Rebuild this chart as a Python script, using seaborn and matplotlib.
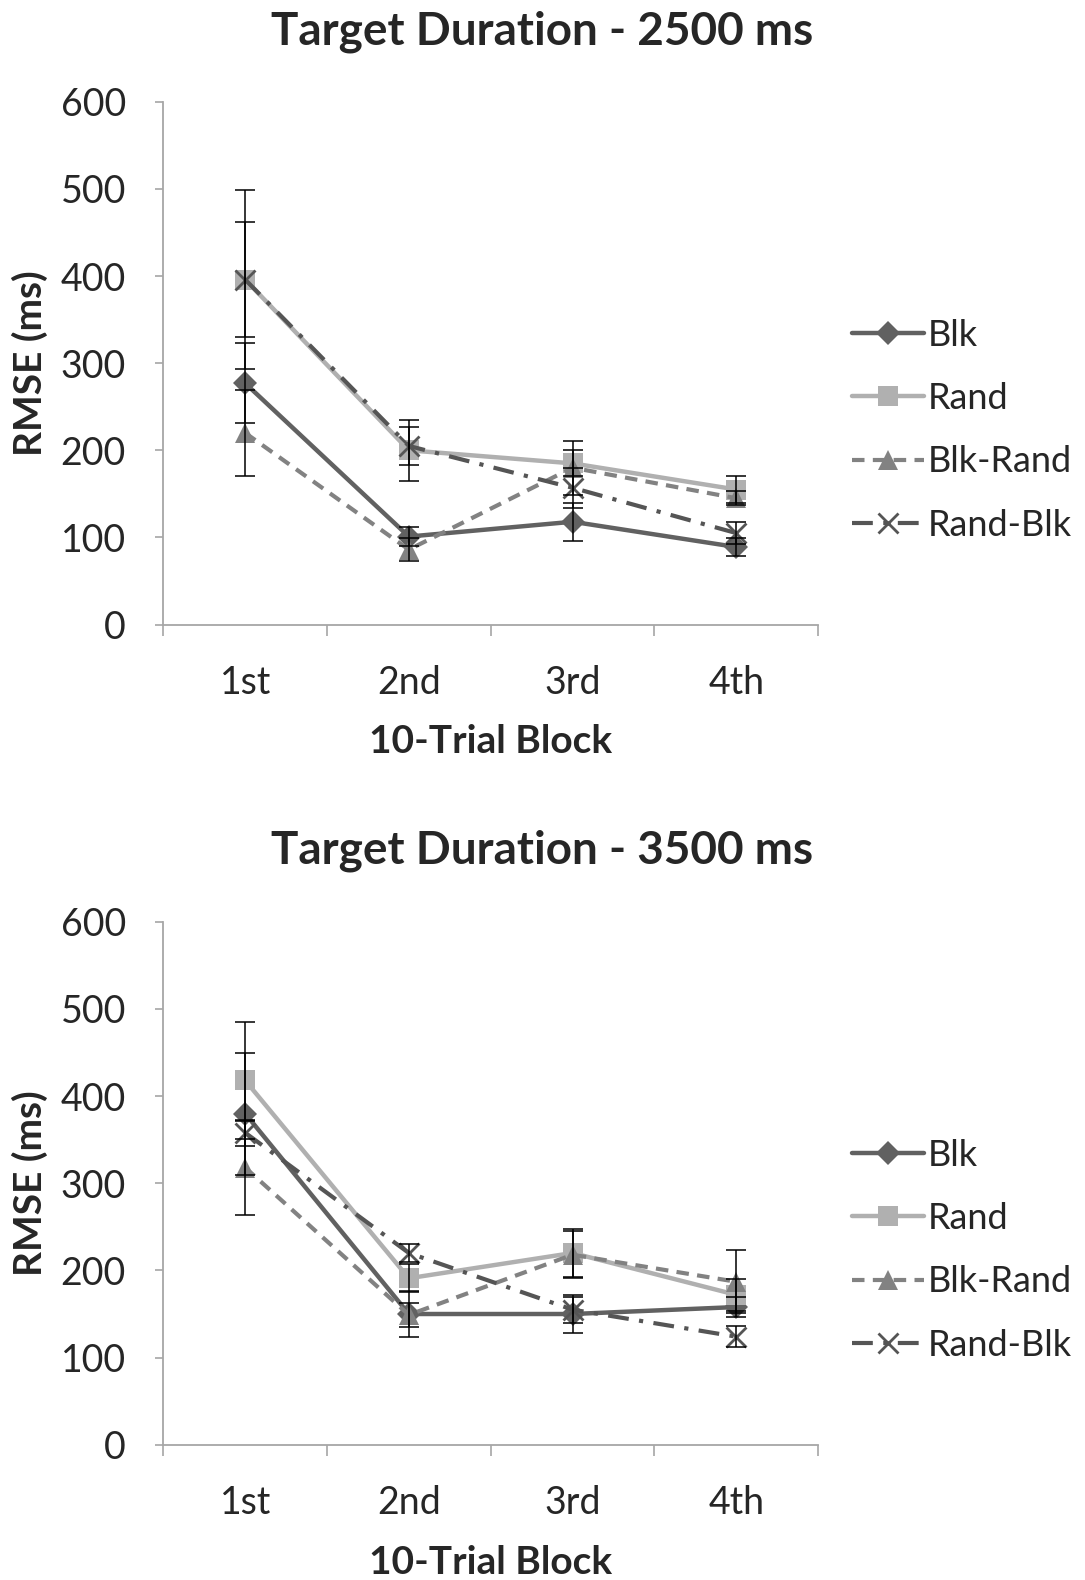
import numpy as np
import pandas as pd
import matplotlib
matplotlib.use("Agg")
import matplotlib.pyplot as plt
import seaborn as sns

# categories
blocks = ["1st", "2nd", "3rd", "4th"]
series_names = ["Blk", "Rand", "Blk-Rand", "Rand-Blk"]

# Target 2500 ms: means and error bars
top_blk = [277, 101, 118, 89]
top_blk_err = [46, 11, 22, 10]
top_rand = [396, 200, 185, 155]
top_rand_err = [103, 35, 15, 15]
top_blkrand = [220, 86, 180, 145]
top_blkrand_err = [49, 13, 31, 8]
top_randblk = [396, 205, 157, 105]
top_randblk_err = [66, 22, 23, 13]

# Target 3500 ms
bot_blk = [380, 150, 150, 158]
bot_blk_err = [70, 26, 22, 12]
bot_rand = [418, 191, 220, 172]
bot_rand_err = [67, 16, 27, 18]
bot_blkrand = [318, 149, 218, 187]
bot_blkrand_err = [54, 14, 27, 36]
bot_randblk = [358, 220, 155, 124]
bot_randblk_err = [15, 10, 15, 12]

titles = ["Target Duration - 2500 ms", "Target Duration - 3500 ms"]
yticks = [0, 100, 200, 300, 400, 500, 600]

sns.set_style("white")
plt.rcParams['font.family'] = ['Lato', 'DejaVu Sans']

styles = {
    "Blk":      dict(color="#616161", marker="D", ms=12, ls="-", lw=3.2, mew=0),
    "Rand":     dict(color="#b0b0b0", marker="s", ms=14, ls="-", lw=3.2, mew=0),
    "Blk-Rand": dict(color="#828282", marker="^", ms=15, ls=(0, (3, 2)), lw=3.0, mew=0),
    "Rand-Blk": dict(color="#555555", marker="x", ms=15, ls=(0, (5, 2.5, 1, 2.5)), lw=3.0, mew=2),
}

panels = [
    (top_blk, top_blk_err, top_rand, top_rand_err, top_blkrand, top_blkrand_err, top_randblk, top_randblk_err),
    (bot_blk, bot_blk_err, bot_rand, bot_rand_err, bot_blkrand, bot_blkrand_err, bot_randblk, bot_randblk_err),
]

fig = plt.figure(figsize=(10.85, 15.8), dpi=100)
ax_rects = [[0.1505, 0.6047, 0.6035, 0.3309], [0.1505, 0.0856, 0.6035, 0.3310]]
title_y = [0.980, 0.4615]
spine_col = "#a6a6a6"

for p, vals in enumerate(panels):
    ax = fig.add_axes(ax_rects[p])
    x = np.arange(len(blocks))
    for i, name in enumerate(series_names):
        means = vals[2 * i]
        errs = vals[2 * i + 1]
        df = pd.DataFrame({"block": x, "rmse": means})
        st = styles[name]
        sns.lineplot(data=df, x="block", y="rmse", ax=ax, color=st["color"],
                     marker=st["marker"], markersize=st["ms"], linestyle=st["ls"],
                     linewidth=st["lw"], markeredgewidth=st["mew"],
                     markeredgecolor=st["color"], label=name, zorder=3 + i)
        ax.errorbar(x, means, yerr=errs, fmt="none", ecolor="black",
                    elinewidth=1.1, capsize=7, capthick=1.1, zorder=10)

    ax.set_xlim(-0.5, 3.5)
    ax.set_ylim(0, 600)
    ax.set_yticks(yticks)
    ax.set_xticks(x)
    ax.set_xticklabels(blocks)
    ax.set_xticks(np.arange(-0.5, 4, 1), minor=True)
    ax.tick_params(axis="x", which="major", length=0, pad=29, labelsize=27)
    ax.tick_params(axis="x", which="minor", length=8, width=1.2, color=spine_col, direction="out")
    ax.tick_params(axis="y", length=6, width=1.2, color=spine_col, direction="out", pad=21, labelsize=27)
    ax.xaxis.set_ticks_position("bottom")
    ax.yaxis.set_ticks_position("left")
    for s in ["top", "right"]:
        ax.spines[s].set_visible(False)
    for s in ["left", "bottom"]:
        ax.spines[s].set_color(spine_col)
        ax.spines[s].set_linewidth(1.3)
    ax.grid(False)

    ax.set_xlabel("10-Trial Block", fontsize=28, fontweight="bold", labelpad=17)
    ax.set_ylabel("RMSE (ms)", fontsize=28, fontweight="bold", labelpad=9)
    fig.text(0.5, title_y[p], titles[p], ha="center", va="center",
             fontsize=33, fontweight="bold")

    ax.legend(loc="center left", bbox_to_anchor=(1.03, 0.372), frameon=False,
              fontsize=26, handlelength=2.0, handletextpad=0.1, labelspacing=0.84,
              borderaxespad=0)

fig.savefig("out.png", dpi=100)
